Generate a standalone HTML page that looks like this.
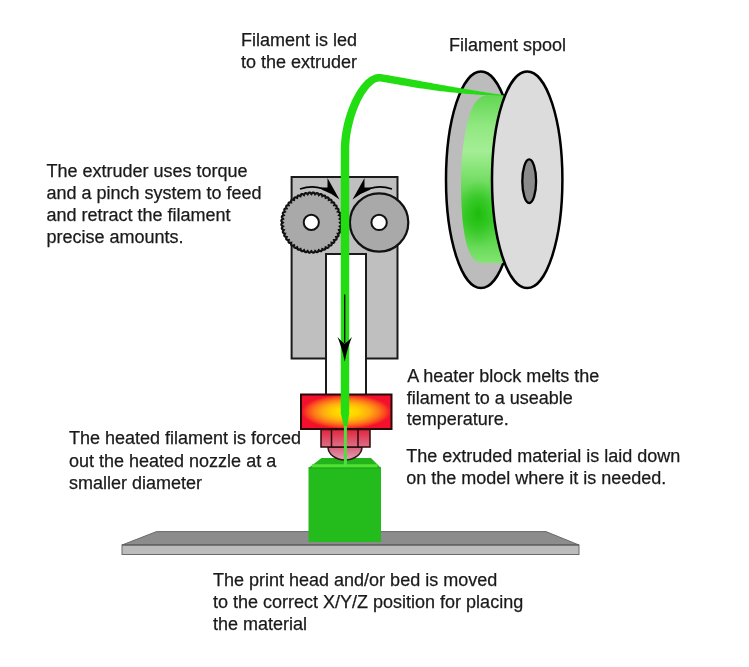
<!DOCTYPE html>
<html><head><meta charset="utf-8"><style>
html,body{margin:0;padding:0;background:#fff;width:749px;height:667px;overflow:hidden}
svg{display:block;will-change:transform}
text{font-family:"Liberation Sans",sans-serif;font-size:18px;fill:#1a1a1a;stroke:#1a1a1a;stroke-width:0.25px}
</style></head><body>
<svg width="749" height="667" viewBox="0 0 749 667">
<defs>
<radialGradient id="heat" cx="0.5" cy="0.5" r="0.5">
<stop offset="0" stop-color="#ffea00"/>
<stop offset="0.3" stop-color="#ffd000"/>
<stop offset="0.52" stop-color="#ffac10"/>
<stop offset="0.72" stop-color="#fc7818"/>
<stop offset="0.87" stop-color="#f84420"/>
<stop offset="0.96" stop-color="#f41c2a"/>
<stop offset="1" stop-color="#f2102c"/>
</radialGradient>
<linearGradient id="nut" x1="0" y1="0" x2="0" y2="1">
<stop offset="0" stop-color="#e2243e"/>
<stop offset="1" stop-color="#de7088"/>
</linearGradient>
<linearGradient id="tip" x1="0" y1="0" x2="0" y2="1">
<stop offset="0" stop-color="#d8607c"/>
<stop offset="1" stop-color="#e4a0b2"/>
</linearGradient>
<linearGradient id="roll" x1="0" y1="0" x2="0" y2="1">
<stop offset="0" stop-color="#62d652"/>
<stop offset="0.18" stop-color="#90e880"/>
<stop offset="0.33" stop-color="#a4ee96"/>
<stop offset="0.48" stop-color="#7ce06c"/>
<stop offset="0.62" stop-color="#52d242"/>
<stop offset="0.74" stop-color="#3ccb2c"/>
<stop offset="0.88" stop-color="#62d852"/>
<stop offset="1" stop-color="#84e474"/>
</linearGradient>
<radialGradient id="rolldark" cx="0.5" cy="0.5" r="0.5">
<stop offset="0" stop-color="#1cbc0c" stop-opacity="1"/>
<stop offset="0.5" stop-color="#28c418" stop-opacity="0.6"/>
<stop offset="1" stop-color="#3ccb2c" stop-opacity="0"/>
</radialGradient>
<clipPath id="rollclip"><path d="M510,95.5 L486,95.5 C478,96 472,105 468,120 C464.8,132 461,155 461,180 C461,232 467,263 482,263 L510,263 Z"/></clipPath>
</defs>

<!-- spool back flange -->
<ellipse cx="481" cy="179.8" rx="35" ry="108.3" fill="#bcbcbc" stroke="#000" stroke-width="2.5"/>
<!-- roll -->
<path d="M510,95.5 L486,95.5 C478,96 472,105 468,120 C464.8,132 461,155 461,180 C461,232 467,263 482,263 L510,263 Z" fill="url(#roll)"/>
<ellipse cx="478" cy="214" rx="22" ry="34" fill="url(#rolldark)" clip-path="url(#rollclip)"/>
<!-- front flange -->
<ellipse cx="527.2" cy="179.8" rx="35.2" ry="108.3" fill="#dcdcdc" stroke="#000" stroke-width="2.5"/>
<ellipse cx="529.2" cy="181.2" rx="6.9" ry="21.8" fill="#8a8a8a" stroke="#000" stroke-width="2.3"/>

<!-- extruder body -->
<path d="M291.6,177 H397.5 V358.5 H366 V254 H326 V358.5 H291.6 Z" fill="#bfbfbf" stroke="#1a1a1a" stroke-width="2"/>
<path d="M326,359 V394 M366,359 V394" stroke="#1a1a1a" stroke-width="2"/>

<!-- arrows on top -->
<g id="arrL">
<path d="M300,189 Q312,185 322,188.5" fill="none" stroke="#000" stroke-width="1.8"/>
<path d="M327.5,178 L339.5,199.5 Q331,193 322,189.8 L320,187.6 L327.5,187.6 Z" fill="#000"/>
</g>
<use href="#arrL" transform="translate(692,0) scale(-1,1)"/>

<!-- knurled gear -->
<path d="M340.00,222.60 L340.29,222.84 L340.57,223.08 L340.82,223.32 L341.04,223.57 L341.22,223.82 L341.35,224.07 L341.42,224.32 L341.44,224.57 L341.39,224.81 L341.29,225.05 L341.13,225.28 L340.92,225.51 L340.67,225.72 L340.38,225.93 L340.08,226.14 L339.76,226.33 L340.01,226.61 L340.26,226.88 L340.48,227.16 L340.66,227.43 L340.81,227.70 L340.90,227.97 L340.94,228.23 L340.92,228.47 L340.84,228.71 L340.71,228.93 L340.52,229.14 L340.29,229.34 L340.01,229.52 L339.70,229.69 L339.37,229.85 L339.03,230.00 L339.25,230.31 L339.45,230.61 L339.63,230.91 L339.78,231.21 L339.89,231.50 L339.95,231.77 L339.95,232.03 L339.90,232.28 L339.80,232.50 L339.63,232.70 L339.42,232.88 L339.16,233.05 L338.86,233.19 L338.53,233.32 L338.18,233.44 L337.82,233.54 L338.00,233.87 L338.17,234.20 L338.31,234.53 L338.42,234.84 L338.49,235.14 L338.51,235.42 L338.48,235.68 L338.40,235.91 L338.26,236.12 L338.07,236.30 L337.84,236.45 L337.56,236.58 L337.24,236.69 L336.90,236.77 L336.54,236.84 L336.17,236.90 L336.30,237.25 L336.42,237.60 L336.52,237.94 L336.59,238.26 L336.62,238.57 L336.60,238.85 L336.54,239.10 L336.43,239.32 L336.27,239.51 L336.06,239.66 L335.80,239.79 L335.51,239.88 L335.18,239.94 L334.83,239.98 L334.47,240.00 L334.09,240.01 L334.18,240.38 L334.25,240.74 L334.30,241.09 L334.33,241.42 L334.32,241.72 L334.27,242.00 L334.17,242.24 L334.03,242.45 L333.85,242.61 L333.62,242.74 L333.35,242.82 L333.05,242.88 L332.72,242.90 L332.36,242.89 L332.00,242.86 L331.62,242.82 L331.66,243.20 L331.69,243.56 L331.70,243.92 L331.68,244.25 L331.62,244.55 L331.54,244.82 L331.41,245.05 L331.25,245.23 L331.04,245.37 L330.80,245.47 L330.52,245.52 L330.22,245.53 L329.89,245.50 L329.54,245.45 L329.18,245.38 L328.81,245.29 L328.80,245.67 L328.78,246.03 L328.74,246.38 L328.68,246.71 L328.59,247.00 L328.46,247.26 L328.31,247.47 L328.12,247.63 L327.90,247.74 L327.65,247.80 L327.37,247.82 L327.06,247.79 L326.74,247.72 L326.40,247.62 L326.05,247.50 L325.70,247.37 L325.64,247.74 L325.57,248.10 L325.49,248.44 L325.38,248.76 L325.25,249.04 L325.10,249.27 L324.92,249.46 L324.71,249.60 L324.48,249.68 L324.22,249.71 L323.94,249.69 L323.64,249.62 L323.33,249.51 L323.00,249.37 L322.67,249.20 L322.34,249.02 L322.24,249.38 L322.12,249.73 L321.99,250.06 L321.85,250.36 L321.68,250.62 L321.50,250.83 L321.30,251.00 L321.08,251.10 L320.83,251.15 L320.57,251.15 L320.30,251.09 L320.01,250.98 L319.71,250.83 L319.41,250.65 L319.11,250.45 L318.80,250.23 L318.65,250.57 L318.49,250.90 L318.32,251.21 L318.14,251.49 L317.94,251.72 L317.73,251.91 L317.51,252.04 L317.27,252.12 L317.03,252.14 L316.77,252.10 L316.50,252.01 L316.23,251.86 L315.96,251.68 L315.68,251.46 L315.41,251.21 L315.13,250.96 L314.94,251.28 L314.73,251.58 L314.52,251.87 L314.31,252.12 L314.08,252.33 L313.85,252.49 L313.61,252.59 L313.37,252.64 L313.12,252.62 L312.87,252.55 L312.62,252.42 L312.37,252.24 L312.12,252.02 L311.88,251.77 L311.64,251.49 L311.40,251.20 L311.16,251.49 L310.92,251.77 L310.68,252.02 L310.43,252.24 L310.18,252.42 L309.93,252.55 L309.68,252.62 L309.43,252.64 L309.19,252.59 L308.95,252.49 L308.72,252.33 L308.49,252.12 L308.28,251.87 L308.07,251.58 L307.86,251.28 L307.67,250.96 L307.39,251.21 L307.12,251.46 L306.84,251.68 L306.57,251.86 L306.30,252.01 L306.03,252.10 L305.77,252.14 L305.53,252.12 L305.29,252.04 L305.07,251.91 L304.86,251.72 L304.66,251.49 L304.48,251.21 L304.31,250.90 L304.15,250.57 L304.00,250.23 L303.69,250.45 L303.39,250.65 L303.09,250.83 L302.79,250.98 L302.50,251.09 L302.23,251.15 L301.97,251.15 L301.72,251.10 L301.50,251.00 L301.30,250.83 L301.12,250.62 L300.95,250.36 L300.81,250.06 L300.68,249.73 L300.56,249.38 L300.46,249.02 L300.13,249.20 L299.80,249.37 L299.47,249.51 L299.16,249.62 L298.86,249.69 L298.58,249.71 L298.32,249.68 L298.09,249.60 L297.88,249.46 L297.70,249.27 L297.55,249.04 L297.42,248.76 L297.31,248.44 L297.23,248.10 L297.16,247.74 L297.10,247.37 L296.75,247.50 L296.40,247.62 L296.06,247.72 L295.74,247.79 L295.43,247.82 L295.15,247.80 L294.90,247.74 L294.68,247.63 L294.49,247.47 L294.34,247.26 L294.21,247.00 L294.12,246.71 L294.06,246.38 L294.02,246.03 L294.00,245.67 L293.99,245.29 L293.62,245.38 L293.26,245.45 L292.91,245.50 L292.58,245.53 L292.28,245.52 L292.00,245.47 L291.76,245.37 L291.55,245.23 L291.39,245.05 L291.26,244.82 L291.18,244.55 L291.12,244.25 L291.10,243.92 L291.11,243.56 L291.14,243.20 L291.18,242.82 L290.80,242.86 L290.44,242.89 L290.08,242.90 L289.75,242.88 L289.45,242.82 L289.18,242.74 L288.95,242.61 L288.77,242.45 L288.63,242.24 L288.53,242.00 L288.48,241.72 L288.47,241.42 L288.50,241.09 L288.55,240.74 L288.62,240.38 L288.71,240.01 L288.33,240.00 L287.97,239.98 L287.62,239.94 L287.29,239.88 L287.00,239.79 L286.74,239.66 L286.53,239.51 L286.37,239.32 L286.26,239.10 L286.20,238.85 L286.18,238.57 L286.21,238.26 L286.28,237.94 L286.38,237.60 L286.50,237.25 L286.63,236.90 L286.26,236.84 L285.90,236.77 L285.56,236.69 L285.24,236.58 L284.96,236.45 L284.73,236.30 L284.54,236.12 L284.40,235.91 L284.32,235.68 L284.29,235.42 L284.31,235.14 L284.38,234.84 L284.49,234.53 L284.63,234.20 L284.80,233.87 L284.98,233.54 L284.62,233.44 L284.27,233.32 L283.94,233.19 L283.64,233.05 L283.38,232.88 L283.17,232.70 L283.00,232.50 L282.90,232.28 L282.85,232.03 L282.85,231.77 L282.91,231.50 L283.02,231.21 L283.17,230.91 L283.35,230.61 L283.55,230.31 L283.77,230.00 L283.43,229.85 L283.10,229.69 L282.79,229.52 L282.51,229.34 L282.28,229.14 L282.09,228.93 L281.96,228.71 L281.88,228.47 L281.86,228.23 L281.90,227.97 L281.99,227.70 L282.14,227.43 L282.32,227.16 L282.54,226.88 L282.79,226.61 L283.04,226.33 L282.72,226.14 L282.42,225.93 L282.13,225.72 L281.88,225.51 L281.67,225.28 L281.51,225.05 L281.41,224.81 L281.36,224.57 L281.38,224.32 L281.45,224.07 L281.58,223.82 L281.76,223.57 L281.98,223.32 L282.23,223.08 L282.51,222.84 L282.80,222.60 L282.51,222.36 L282.23,222.12 L281.98,221.88 L281.76,221.63 L281.58,221.38 L281.45,221.13 L281.38,220.88 L281.36,220.63 L281.41,220.39 L281.51,220.15 L281.67,219.92 L281.88,219.69 L282.13,219.48 L282.42,219.27 L282.72,219.06 L283.04,218.87 L282.79,218.59 L282.54,218.32 L282.32,218.04 L282.14,217.77 L281.99,217.50 L281.90,217.23 L281.86,216.97 L281.88,216.73 L281.96,216.49 L282.09,216.27 L282.28,216.06 L282.51,215.86 L282.79,215.68 L283.10,215.51 L283.43,215.35 L283.77,215.20 L283.55,214.89 L283.35,214.59 L283.17,214.29 L283.02,213.99 L282.91,213.70 L282.85,213.43 L282.85,213.17 L282.90,212.92 L283.00,212.70 L283.17,212.50 L283.38,212.32 L283.64,212.15 L283.94,212.01 L284.27,211.88 L284.62,211.76 L284.98,211.66 L284.80,211.33 L284.63,211.00 L284.49,210.67 L284.38,210.36 L284.31,210.06 L284.29,209.78 L284.32,209.52 L284.40,209.29 L284.54,209.08 L284.73,208.90 L284.96,208.75 L285.24,208.62 L285.56,208.51 L285.90,208.43 L286.26,208.36 L286.63,208.30 L286.50,207.95 L286.38,207.60 L286.28,207.26 L286.21,206.94 L286.18,206.63 L286.20,206.35 L286.26,206.10 L286.37,205.88 L286.53,205.69 L286.74,205.54 L287.00,205.41 L287.29,205.32 L287.62,205.26 L287.97,205.22 L288.33,205.20 L288.71,205.19 L288.62,204.82 L288.55,204.46 L288.50,204.11 L288.47,203.78 L288.48,203.48 L288.53,203.20 L288.63,202.96 L288.77,202.75 L288.95,202.59 L289.18,202.46 L289.45,202.38 L289.75,202.32 L290.08,202.30 L290.44,202.31 L290.80,202.34 L291.18,202.38 L291.14,202.00 L291.11,201.64 L291.10,201.28 L291.12,200.95 L291.18,200.65 L291.26,200.38 L291.39,200.15 L291.55,199.97 L291.76,199.83 L292.00,199.73 L292.28,199.68 L292.58,199.67 L292.91,199.70 L293.26,199.75 L293.62,199.82 L293.99,199.91 L294.00,199.53 L294.02,199.17 L294.06,198.82 L294.12,198.49 L294.21,198.20 L294.34,197.94 L294.49,197.73 L294.68,197.57 L294.90,197.46 L295.15,197.40 L295.43,197.38 L295.74,197.41 L296.06,197.48 L296.40,197.58 L296.75,197.70 L297.10,197.83 L297.16,197.46 L297.23,197.10 L297.31,196.76 L297.42,196.44 L297.55,196.16 L297.70,195.93 L297.88,195.74 L298.09,195.60 L298.32,195.52 L298.58,195.49 L298.86,195.51 L299.16,195.58 L299.47,195.69 L299.80,195.83 L300.13,196.00 L300.46,196.18 L300.56,195.82 L300.68,195.47 L300.81,195.14 L300.95,194.84 L301.12,194.58 L301.30,194.37 L301.50,194.20 L301.72,194.10 L301.97,194.05 L302.23,194.05 L302.50,194.11 L302.79,194.22 L303.09,194.37 L303.39,194.55 L303.69,194.75 L304.00,194.97 L304.15,194.63 L304.31,194.30 L304.48,193.99 L304.66,193.71 L304.86,193.48 L305.07,193.29 L305.29,193.16 L305.53,193.08 L305.77,193.06 L306.03,193.10 L306.30,193.19 L306.57,193.34 L306.84,193.52 L307.12,193.74 L307.39,193.99 L307.67,194.24 L307.86,193.92 L308.07,193.62 L308.28,193.33 L308.49,193.08 L308.72,192.87 L308.95,192.71 L309.19,192.61 L309.43,192.56 L309.68,192.58 L309.93,192.65 L310.18,192.78 L310.43,192.96 L310.68,193.18 L310.92,193.43 L311.16,193.71 L311.40,194.00 L311.64,193.71 L311.88,193.43 L312.12,193.18 L312.37,192.96 L312.62,192.78 L312.87,192.65 L313.12,192.58 L313.37,192.56 L313.61,192.61 L313.85,192.71 L314.08,192.87 L314.31,193.08 L314.52,193.33 L314.73,193.62 L314.94,193.92 L315.13,194.24 L315.41,193.99 L315.68,193.74 L315.96,193.52 L316.23,193.34 L316.50,193.19 L316.77,193.10 L317.03,193.06 L317.27,193.08 L317.51,193.16 L317.73,193.29 L317.94,193.48 L318.14,193.71 L318.32,193.99 L318.49,194.30 L318.65,194.63 L318.80,194.97 L319.11,194.75 L319.41,194.55 L319.71,194.37 L320.01,194.22 L320.30,194.11 L320.57,194.05 L320.83,194.05 L321.08,194.10 L321.30,194.20 L321.50,194.37 L321.68,194.58 L321.85,194.84 L321.99,195.14 L322.12,195.47 L322.24,195.82 L322.34,196.18 L322.67,196.00 L323.00,195.83 L323.33,195.69 L323.64,195.58 L323.94,195.51 L324.22,195.49 L324.48,195.52 L324.71,195.60 L324.92,195.74 L325.10,195.93 L325.25,196.16 L325.38,196.44 L325.49,196.76 L325.57,197.10 L325.64,197.46 L325.70,197.83 L326.05,197.70 L326.40,197.58 L326.74,197.48 L327.06,197.41 L327.37,197.38 L327.65,197.40 L327.90,197.46 L328.12,197.57 L328.31,197.73 L328.46,197.94 L328.59,198.20 L328.68,198.49 L328.74,198.82 L328.78,199.17 L328.80,199.53 L328.81,199.91 L329.18,199.82 L329.54,199.75 L329.89,199.70 L330.22,199.67 L330.52,199.68 L330.80,199.73 L331.04,199.83 L331.25,199.97 L331.41,200.15 L331.54,200.38 L331.62,200.65 L331.68,200.95 L331.70,201.28 L331.69,201.64 L331.66,202.00 L331.62,202.38 L332.00,202.34 L332.36,202.31 L332.72,202.30 L333.05,202.32 L333.35,202.38 L333.62,202.46 L333.85,202.59 L334.03,202.75 L334.17,202.96 L334.27,203.20 L334.32,203.48 L334.33,203.78 L334.30,204.11 L334.25,204.46 L334.18,204.82 L334.09,205.19 L334.47,205.20 L334.83,205.22 L335.18,205.26 L335.51,205.32 L335.80,205.41 L336.06,205.54 L336.27,205.69 L336.43,205.88 L336.54,206.10 L336.60,206.35 L336.62,206.63 L336.59,206.94 L336.52,207.26 L336.42,207.60 L336.30,207.95 L336.17,208.30 L336.54,208.36 L336.90,208.43 L337.24,208.51 L337.56,208.62 L337.84,208.75 L338.07,208.90 L338.26,209.08 L338.40,209.29 L338.48,209.52 L338.51,209.78 L338.49,210.06 L338.42,210.36 L338.31,210.67 L338.17,211.00 L338.00,211.33 L337.82,211.66 L338.18,211.76 L338.53,211.88 L338.86,212.01 L339.16,212.15 L339.42,212.32 L339.63,212.50 L339.80,212.70 L339.90,212.92 L339.95,213.17 L339.95,213.43 L339.89,213.70 L339.78,213.99 L339.63,214.29 L339.45,214.59 L339.25,214.89 L339.03,215.20 L339.37,215.35 L339.70,215.51 L340.01,215.68 L340.29,215.86 L340.52,216.06 L340.71,216.27 L340.84,216.49 L340.92,216.73 L340.94,216.97 L340.90,217.23 L340.81,217.50 L340.66,217.77 L340.48,218.04 L340.26,218.32 L340.01,218.59 L339.76,218.87 L340.08,219.06 L340.38,219.27 L340.67,219.48 L340.92,219.69 L341.13,219.92 L341.29,220.15 L341.39,220.39 L341.44,220.63 L341.42,220.88 L341.35,221.13 L341.22,221.38 L341.04,221.63 L340.82,221.88 L340.57,222.12 L340.29,222.36Z" fill="#a9a9a9" stroke="#111" stroke-width="2.2"/>
<circle cx="311.3" cy="222.3" r="7.6" fill="#fff" stroke="#111" stroke-width="2"/>
<!-- smooth roller -->
<circle cx="379.1" cy="222.5" r="29.2" fill="#a9a9a9" stroke="#111" stroke-width="2.2"/>
<circle cx="379.1" cy="222.4" r="7.7" fill="#fff" stroke="#111" stroke-width="2"/>

<!-- heater block -->
<rect x="301" y="394.5" width="90.5" height="34.5" fill="url(#heat)" stroke="#2a0a0a" stroke-width="2"/>

<!-- bed -->
<path d="M122,545 L156.5,531.6 H546 L579,545 Z" fill="#8c8c8c" stroke="#6a6a6a" stroke-width="1"/>
<rect x="122" y="545" width="457" height="9.5" fill="#bcbcbc" stroke="#6a6a6a" stroke-width="1"/>
<path d="M122,545 H579" stroke="#585858" stroke-width="1.2"/>
<!-- model block -->
<path d="M308.5,468 L321.5,458 L371,458 L381,468 Z" fill="#22b41a"/>
<rect x="308.5" y="467.5" width="72.5" height="74.5" fill="#24bc1c"/>
<path d="M308.5,468 H381" stroke="#18a814" stroke-width="1"/>
<path d="M312,465.8 H377.5" stroke="#52e034" stroke-width="3"/>

<!-- nozzle tip -->
<path d="M328,447 A17,13 0 0 0 362,447 Z" fill="url(#tip)" stroke="#2a1a1a" stroke-width="1.5"/>
<!-- nut -->
<rect x="321" y="429.5" width="49" height="17.5" fill="url(#nut)" stroke="#2a0a0a" stroke-width="1.5"/>
<path d="M331.5,430 V447 M358,430 V447" stroke="#2a0a0a" stroke-width="1.5"/>

<!-- filament -->
<path d="M349.20,414.00 L349.20,300.00 L349.20,150.00 L349.23,147.55 L349.33,145.08 L349.50,142.59 L349.73,140.09 L350.02,137.57 L350.36,135.06 L350.77,132.54 L351.23,130.03 L351.75,127.53 L352.31,125.04 L352.93,122.58 L353.54,120.13 L354.24,117.71 L354.98,115.34 L355.77,113.00 L356.59,110.71 L357.45,108.47 L358.35,106.28 L359.28,104.16 L360.23,102.10 L361.21,100.10 L362.22,98.19 L363.25,96.35 L364.30,94.60 L365.36,92.94 L366.44,91.38 L367.53,89.91 L368.62,88.55 L369.71,87.31 L370.80,86.17 L371.87,85.16 L372.93,84.27 L373.97,83.51 L374.98,82.87 L375.95,82.36 L376.88,81.97 L377.76,81.70 L378.61,81.53 L379.42,81.47 L380.34,81.53 L380.76,81.60 L381.40,81.70 L382.08,81.81 L382.78,81.92 L383.51,82.04 L384.27,82.17 L385.06,82.30 L385.89,82.44 L386.73,82.59 L387.61,82.74 L388.52,82.90 L389.45,83.06 L390.41,83.23 L391.40,83.41 L392.41,83.59 L393.45,83.77 L394.52,83.96 L395.61,84.16 L396.73,84.36 L397.87,84.56 L399.04,84.77 L400.23,84.98 L401.45,85.19 L402.69,85.41 L403.95,85.62 L405.24,85.85 L406.56,86.07 L407.89,86.29 L409.25,86.52 L410.64,86.75 L412.04,86.98 L413.47,87.21 L414.92,87.45 L416.39,87.68 L417.88,87.91 L419.39,88.15 L420.93,88.38 L422.48,88.62 L424.06,88.85 L425.65,89.09 L427.27,89.32 L428.90,89.55 L430.56,89.79 L432.23,90.02 L433.92,90.25 L435.63,90.47 L437.36,90.70 L439.11,90.92 L440.88,91.14 L442.66,91.36 L444.46,91.58 L446.28,91.79 L448.11,92.00 L449.96,92.21 L451.83,92.41 L453.71,92.61 L455.61,92.81 L457.52,93.00 L459.45,93.19 L461.39,93.37 L463.35,93.55 L465.32,93.72 L467.31,93.89 L469.31,94.06 L471.33,94.21 L473.35,94.37 L475.39,94.51 L477.45,94.65 L479.51,94.79 L481.59,94.91 L483.68,95.04 L485.78,95.15 L487.89,95.26 L490.01,95.36 L492.15,95.45 L494.29,95.54 L496.45,95.61 L498.61,95.68 L500.78,95.75 L502.97,95.80 L503.03,95.00 L500.88,94.68 L498.73,94.36 L496.59,94.04 L494.46,93.72 L492.35,93.39 L490.24,93.07 L488.15,92.74 L486.07,92.41 L483.99,92.09 L481.93,91.76 L479.89,91.43 L477.85,91.10 L475.83,90.77 L473.82,90.44 L471.82,90.11 L469.84,89.78 L467.87,89.45 L465.91,89.12 L463.96,88.80 L462.04,88.47 L460.12,88.14 L458.22,87.82 L456.33,87.49 L454.46,87.17 L452.61,86.85 L450.77,86.53 L448.94,86.21 L447.14,85.89 L445.34,85.57 L443.57,85.26 L441.81,84.95 L440.07,84.64 L438.34,84.33 L436.64,84.02 L434.95,83.72 L433.28,83.42 L431.62,83.12 L429.99,82.82 L428.37,82.53 L426.77,82.24 L425.20,81.95 L423.64,81.67 L422.10,81.38 L420.58,81.11 L419.08,80.83 L417.60,80.56 L416.14,80.29 L414.71,80.03 L413.29,79.77 L411.90,79.51 L410.53,79.26 L409.17,79.01 L407.85,78.77 L406.54,78.53 L405.26,78.29 L404.00,78.06 L402.76,77.84 L401.55,77.61 L400.36,77.40 L399.19,77.19 L398.05,76.98 L396.93,76.78 L395.84,76.58 L394.77,76.39 L393.73,76.20 L392.71,76.02 L391.72,75.85 L390.75,75.68 L389.81,75.51 L388.90,75.35 L388.01,75.20 L387.15,75.05 L386.32,74.91 L385.51,74.77 L384.73,74.64 L383.98,74.52 L383.26,74.40 L382.56,74.29 L381.89,74.19 L381.06,74.07 L379.47,73.96 L377.75,74.03 L376.06,74.31 L374.41,74.77 L372.79,75.39 L371.23,76.17 L369.70,77.09 L368.22,78.13 L366.77,79.29 L365.36,80.57 L363.98,81.96 L362.63,83.45 L361.31,85.03 L360.02,86.71 L358.77,88.49 L357.54,90.34 L356.34,92.28 L355.18,94.30 L354.04,96.39 L352.94,98.55 L351.88,100.78 L350.85,103.07 L349.87,105.42 L348.92,107.82 L348.02,110.27 L347.15,112.76 L346.34,115.29 L345.57,117.86 L344.80,120.46 L344.14,123.09 L343.54,125.74 L342.99,128.42 L342.49,131.11 L342.06,133.81 L341.68,136.52 L341.37,139.23 L341.12,141.93 L340.95,144.63 L340.84,147.32 L340.80,150.00 L340.80,300.00 L340.80,414.00Z" fill="#22dd11"/>
<path d="M340.8,413 L349.2,413 L347.2,427 L344,427 Z" fill="#22dd11"/>
<path d="M345.4,426 V466" stroke="#4ee03e" stroke-width="3"/>
<!-- down arrow -->
<path d="M344.7,294.5 V343" stroke="#000" stroke-width="1.3"/>
<path d="M337.5,337 Q342,347.5 344.7,361.8 Q347.4,347.5 352,337 Q348,341.5 344.7,343.8 Q341.4,341.5 337.5,337 Z" fill="#000"/>



<!-- texts -->
<text x="241" y="46.1">Filament is led</text>
<text x="241" y="68.1">to the extruder</text>
<text x="448.9" y="51.2">Filament spool</text>
<text x="46.5" y="176.7">The extruder uses torque</text>
<text x="46.5" y="198.7">and a pinch system to feed</text>
<text x="46.5" y="220.7">and retract the filament</text>
<text x="46.5" y="242.7">precise amounts.</text>
<text x="407.2" y="381.7">A heater block melts the</text>
<text x="406.7" y="403.7">filament to a useable</text>
<text x="406.7" y="425.2">temperature.</text>
<text x="406.2" y="462.2">The extruded material is laid down</text>
<text x="406.2" y="483.7">on the model where it is needed.</text>
<text x="69" y="444.3">The heated filament is forced</text>
<text x="69" y="466.6">out the heated nozzle at a</text>
<text x="69" y="489">smaller diameter</text>
<text x="213" y="586.2">The print head and/or bed is moved</text>
<text x="213" y="608.2">to the correct X/Y/Z position for placing</text>
<text x="213" y="629.7">the material</text>
</svg>
</body></html>
